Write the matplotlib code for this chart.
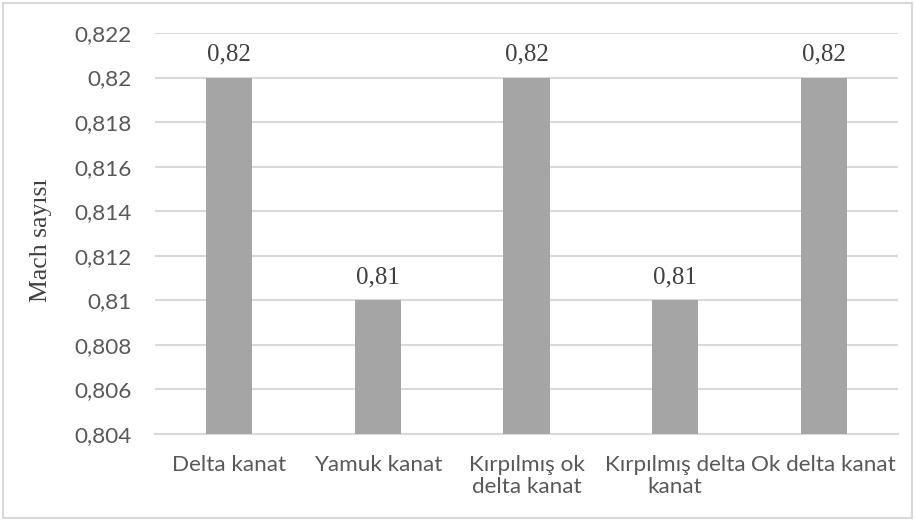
import matplotlib.pyplot as plt
from matplotlib.patches import Rectangle
from matplotlib.ticker import MultipleLocator, FuncFormatter

kanatlar = ['Delta kanat', 'Yamuk kanat', 'Kırpılmış ok\ndelta kanat',
            'Kırpılmış delta\nkanat', 'Ok delta kanat']
mach = [0.82, 0.81, 0.82, 0.81, 0.82]
etiketler = ['0,82', '0,81', '0,82', '0,81', '0,82']

sans = ['Lato', 'DejaVu Sans']
serif = ['Liberation Serif', 'DejaVu Serif']

fig = plt.figure(figsize=(9.15, 5.21), dpi=100)
ax = fig.add_axes([155 / 915, 1 - 434 / 521, 743 / 915, 401 / 521])

x = range(len(kanatlar))
ax.bar(x, mach, width=0.31, color='#A5A5A5', zorder=3)
for i, (v, t) in enumerate(zip(mach, etiketler)):
    ax.annotate(t, (i, v), xytext=(0, 12), textcoords='offset points',
                ha='center', va='baseline', fontsize=18, family=serif, color='#404040')

ax.set_ylim(0.804, 0.822)
ax.set_xlim(-0.5, len(kanatlar) - 0.5)
ax.yaxis.set_major_locator(MultipleLocator(0.002))
ax.yaxis.set_major_formatter(FuncFormatter(lambda v, p: f'{v:g}'.replace('.', ',')))
ax.grid(axis='y', color='#D9D9D9', lw=1.5, zorder=0)
for s in ['top', 'right', 'left']:
    ax.spines[s].set_visible(False)
ax.spines['bottom'].set_color('#D9D9D9')
ax.spines['bottom'].set_linewidth(1.5)
ax.tick_params(length=0)
ax.tick_params(axis='y', pad=17)
ax.tick_params(axis='x', pad=15)
ax.set_xticks(list(x))
ax.set_xticklabels(kanatlar, fontsize=16.2, family=sans, color='#595959', linespacing=1.15)
for lb in ax.get_yticklabels():
    lb.set_fontsize(16.2)
    lb.set_family(sans)
    lb.set_color('#595959')

fig.text(41 / 915, 1 - 240 / 521, 'Mach sayısı', rotation=90, ha='center', va='center',
         fontsize=18.5, family=serif, color='#404040')

fig.patches.append(Rectangle((3 / 915, 3 / 521), 909 / 915, 515 / 521,
                             transform=fig.transFigure, fill=False,
                             edgecolor='#D9D9D9', lw=1.5))

fig.savefig('out.png', dpi=100)
